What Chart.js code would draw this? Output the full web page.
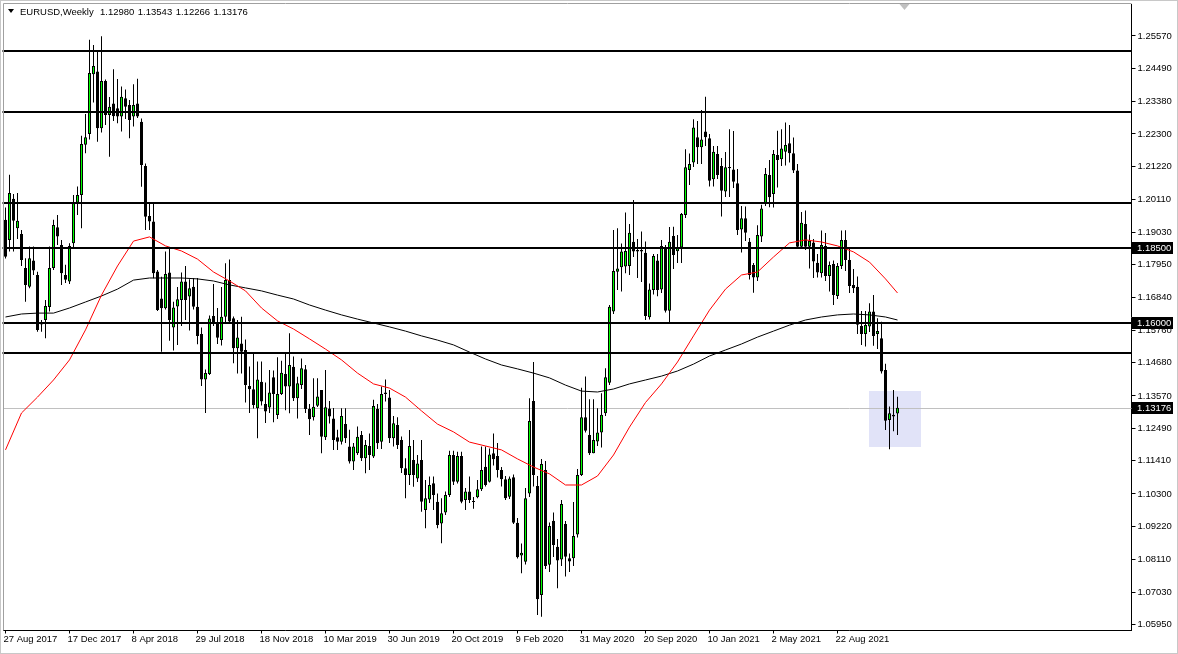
<!DOCTYPE html>
<html>
<head>
<meta charset="utf-8">
<script src="https://cdn.jsdelivr.net/npm/chart.js@4.4.0/dist/chart.umd.min.js"></script>
<style>
  html, body { margin: 0; padding: 0; background: #fff; overflow: hidden; }
  #wrap { width: 1178px; height: 654px; }
</style>
</head>
<body>
<div id="wrap"><canvas id="chart" width="1178" height="654"></canvas></div>
<script>
// --- data (27 Aug 2017 .. 5 Dec 2021) ---
var symbolTitle = 'EURUSD,Weekly';
var xTickLabels = ['27 Aug 2017', '17 Dec 2017', '8 Apr 2018', '29 Jul 2018', '18 Nov 2018', '10 Mar 2019',
    '30 Jun 2019', '20 Oct 2019', '9 Feb 2020', '31 May 2020', '20 Sep 2020', '10 Jan 2021', '2 May 2021', '22 Aug 2021'];
var weeksPerTick = 16;
var slotCount = 282; // weekly slots on the axis, the right part is empty (chart shift)

var yTicks = [1.2557, 1.2449, 1.2338, 1.2230, 1.2122, 1.2011, 1.1903, 1.1795, 1.1684, 1.1576,
    1.1468, 1.1357, 1.1249, 1.1141, 1.1030, 1.0922, 1.0811, 1.0703, 1.0595];

var opens = [
    1.1944, 1.1877, 1.2014, 1.1916, 1.1897, 1.1783, 1.1721, 1.1808,
    1.1760, 1.1601, 1.1610, 1.1653, 1.1783, 1.1919, 1.1860, 1.1760,
    1.1738, 1.1866, 1.2001, 1.2027, 1.2194, 1.2230, 1.2429, 1.2438,
    1.2249, 1.2407, 1.2293, 1.2332, 1.2316, 1.2288, 1.2349, 1.2327,
    1.2288, 1.2332, 1.2271, 1.2123, 1.1957, 1.1938, 1.1772, 1.1682,
    1.1649, 1.1768, 1.1585, 1.1655, 1.1677, 1.1738, 1.1688, 1.1721,
    1.1654, 1.1563, 1.1412, 1.1430, 1.1623, 1.1600, 1.1543, 1.1621,
    1.1743, 1.1616, 1.1516, 1.1532, 1.1510, 1.1390, 1.1379, 1.1316,
    1.1404, 1.1330, 1.1318, 1.1419, 1.1293, 1.1363, 1.1430, 1.1388,
    1.1454, 1.1349, 1.1393, 1.1446, 1.1313, 1.1286, 1.1324, 1.1377,
    1.1219, 1.1315, 1.1282, 1.1219, 1.1204, 1.1263, 1.1188, 1.1138,
    1.1166, 1.1227, 1.1149, 1.1190, 1.1155, 1.1313, 1.1204, 1.1363,
    1.1352, 1.1216, 1.1260, 1.1210, 1.1116, 1.1093, 1.1143, 1.1082,
    1.1143, 1.0977, 1.1012, 1.1066, 1.1004, 1.0932, 1.0968, 1.1027,
    1.1160, 1.1071, 1.1157, 1.1010, 1.1038, 1.1006, 1.1019, 1.1046,
    1.1121, 1.1071, 1.1166, 1.1157, 1.1110, 1.1079, 1.1021, 1.1086,
    1.0934, 1.0825, 1.0804, 1.1032, 1.1340, 1.1057, 1.0693, 1.1110,
    1.0794, 1.0941, 1.0854, 1.0812, 1.0930, 1.0816, 1.0816, 1.0895,
    1.1093, 1.1286, 1.1227, 1.1166, 1.1205, 1.1235, 1.1299, 1.1401,
    1.1638, 1.1771, 1.1786, 1.1788, 1.1790, 1.1871, 1.1838, 1.1843,
    1.1834, 1.1619, 1.1710, 1.1808, 1.1712, 1.1852, 1.1641, 1.1890,
    1.1839, 1.1852, 1.1960, 1.2110, 1.2135, 1.2219, 1.2186, 1.2238,
    1.2216, 1.2079, 1.2163, 1.2123, 1.2038, 1.2120, 1.2112, 1.2066,
    1.1912, 1.1949, 1.1871, 1.1793, 1.1752, 1.1888, 1.1999, 1.2093,
    1.2030, 1.2160, 1.2146, 1.2171, 1.2199, 1.2166, 1.2108, 1.1854,
    1.1930, 1.1854, 1.1868, 1.1801, 1.1766, 1.1857, 1.1757, 1.1797,
    1.1690, 1.1790, 1.1877, 1.1810, 1.1727, 1.1721, 1.1590, 1.1563,
    1.1588, 1.1638, 1.1563, 1.1549, 1.1443, 1.1277, 1.1288, 1.12980
];
var highs = [
    1.1985, 1.2094, 1.2030, 1.2033, 1.1910, 1.1816, 1.1855, 1.1855,
    1.1771, 1.1610, 1.1677, 1.1855, 1.1944, 1.1960, 1.1877, 1.1794,
    1.1866, 1.2027, 1.2055, 1.2224, 1.2297, 1.2544, 1.2527, 1.2507,
    1.2556, 1.2412, 1.2353, 1.2446, 1.2413, 1.2388, 1.2378, 1.2343,
    1.2396, 1.2414, 1.2282, 1.2132, 1.2000, 1.2000, 1.1777, 1.1754,
    1.1838, 1.1852, 1.1671, 1.1720, 1.1768, 1.1790, 1.1746, 1.1750,
    1.1750, 1.1585, 1.1445, 1.1625, 1.1730, 1.1650, 1.1720, 1.1799,
    1.1812, 1.1622, 1.1610, 1.1621, 1.1545, 1.1455, 1.1500, 1.1472,
    1.1472, 1.1402, 1.1443, 1.1442, 1.1486, 1.1474, 1.1498, 1.1566,
    1.1488, 1.1421, 1.1482, 1.1460, 1.1330, 1.1416, 1.1416, 1.1377,
    1.1443, 1.1340, 1.1317, 1.1244, 1.1316, 1.1316, 1.1244, 1.1200,
    1.1255, 1.1240, 1.1210, 1.1232, 1.1344, 1.1330, 1.1388, 1.1412,
    1.1377, 1.1290, 1.1286, 1.1222, 1.1149, 1.1243, 1.1210, 1.1160,
    1.1210, 1.1077, 1.1088, 1.1088, 1.1032, 1.1016, 1.1038, 1.1174,
    1.1174, 1.1171, 1.1171, 1.1050, 1.1088, 1.1020, 1.1077, 1.1188,
    1.1188, 1.1182, 1.1232, 1.1200, 1.1120, 1.1090, 1.1088, 1.1095,
    1.0950, 1.0865, 1.1050, 1.1349, 1.1470, 1.1090, 1.1147, 1.1140,
    1.0935, 1.0968, 1.0880, 1.1010, 1.0940, 1.0832, 1.1003, 1.1113,
    1.1384, 1.1422, 1.1346, 1.1346, 1.1316, 1.1366, 1.1449, 1.1660,
    1.1910, 1.1916, 1.1865, 1.1968, 1.1930, 1.2010, 1.1880, 1.1905,
    1.1872, 1.1732, 1.1830, 1.1830, 1.1877, 1.1860, 1.1920, 1.1921,
    1.1893, 1.1967, 1.2179, 1.2165, 1.2279, 1.2273, 1.2310, 1.2354,
    1.2230, 1.2190, 1.2190, 1.2150, 1.2170, 1.2246, 1.2240, 1.2113,
    1.1990, 1.1988, 1.1883, 1.1800, 1.1926, 1.1994, 1.2117, 1.2143,
    1.2177, 1.2241, 1.2246, 1.2268, 1.2260, 1.2218, 1.2130, 1.1970,
    1.1975, 1.1895, 1.1880, 1.1830, 1.1908, 1.1900, 1.1805, 1.1808,
    1.1800, 1.1908, 1.1909, 1.1848, 1.1780, 1.1755, 1.1640, 1.1640,
    1.1666, 1.1693, 1.1616, 1.1604, 1.1464, 1.1322, 1.1377, 1.13543
];
var lows = [
    1.1815, 1.1838, 1.1838, 1.1880, 1.1790, 1.1671, 1.1716, 1.1760,
    1.1571, 1.1571, 1.1549, 1.1638, 1.1777, 1.1860, 1.1727, 1.1733,
    1.1730, 1.1849, 1.1960, 1.1916, 1.2166, 1.2212, 1.2335, 1.2204,
    1.2235, 1.2260, 1.2154, 1.2273, 1.2266, 1.2238, 1.2280, 1.2216,
    1.2255, 1.2283, 1.2054, 1.1910, 1.1910, 1.1749, 1.1640, 1.1504,
    1.1645, 1.1541, 1.1508, 1.1527, 1.1590, 1.1610, 1.1575, 1.1645,
    1.1529, 1.1390, 1.1300, 1.1427, 1.1590, 1.1530, 1.1525, 1.1600,
    1.1600, 1.1466, 1.1432, 1.1432, 1.1335, 1.1300, 1.1315, 1.1216,
    1.1325, 1.1267, 1.1300, 1.1269, 1.1280, 1.1360, 1.1309, 1.1299,
    1.1340, 1.1282, 1.1380, 1.1300, 1.1227, 1.1275, 1.1320, 1.1166,
    1.1210, 1.1265, 1.1177, 1.1177, 1.1195, 1.1200, 1.1132, 1.1110,
    1.1160, 1.1140, 1.1099, 1.1110, 1.1150, 1.1180, 1.1180, 1.1338,
    1.1200, 1.1188, 1.1180, 1.1100, 1.1016, 1.1060, 1.1054, 1.1070,
    1.0971, 1.0916, 1.1000, 1.0977, 1.0916, 1.0866, 1.0960, 1.1020,
    1.1060, 1.1065, 1.0999, 1.0977, 1.1000, 1.0981, 1.1016, 1.1040,
    1.1055, 1.1068, 1.1125, 1.1085, 1.1055, 1.1010, 1.1013, 1.0930,
    1.0815, 1.0766, 1.0795, 1.1020, 1.1055, 1.0627, 1.0621, 1.0780,
    1.0770, 1.0820, 1.0716, 1.0790, 1.0755, 1.0770, 1.0790, 1.0885,
    1.1090, 1.1235, 1.1160, 1.1166, 1.1190, 1.1185, 1.1290, 1.1393,
    1.1630, 1.1710, 1.1705, 1.1766, 1.1760, 1.1820, 1.1750, 1.1737,
    1.1610, 1.1612, 1.1695, 1.1689, 1.1700, 1.1635, 1.1603, 1.1780,
    1.1800, 1.1800, 1.1950, 1.2060, 1.2120, 1.2130, 1.2130, 1.2190,
    1.2055, 1.2055, 1.2080, 1.1955, 1.2020, 1.2020, 1.2050, 1.1893,
    1.1835, 1.1873, 1.1745, 1.1701, 1.1740, 1.1870, 1.1990, 1.1986,
    1.1985, 1.2052, 1.2123, 1.2125, 1.2135, 1.2100, 1.1847, 1.1850,
    1.1843, 1.1782, 1.1750, 1.1752, 1.1752, 1.1740, 1.1705, 1.1660,
    1.1680, 1.1780, 1.1773, 1.1700, 1.1700, 1.1563, 1.1527, 1.1522,
    1.1570, 1.1524, 1.1513, 1.1432, 1.1243, 1.1179, 1.1239, 1.12266
];
var closes = [
    1.1821, 1.2033, 1.1941, 1.1941, 1.1810, 1.1727, 1.1816, 1.1775,
    1.1577, 1.1595, 1.1657, 1.1783, 1.1927, 1.1888, 1.1766, 1.1744,
    1.1857, 1.2001, 1.2027, 1.2197, 1.2219, 1.2433, 1.2457, 1.2249,
    1.2407, 1.2293, 1.2321, 1.2289, 1.2288, 1.2354, 1.2321, 1.2277,
    1.2327, 1.2288, 1.2127, 1.1954, 1.1938, 1.1766, 1.1643, 1.1649,
    1.1763, 1.1610, 1.1652, 1.1679, 1.1738, 1.1677, 1.1716, 1.1654,
    1.1557, 1.1412, 1.1433, 1.1615, 1.1600, 1.1551, 1.1621, 1.1743,
    1.1605, 1.1516, 1.1552, 1.1504, 1.1393, 1.1379, 1.1327, 1.1412,
    1.1338, 1.1305, 1.1368, 1.1363, 1.1363, 1.1434, 1.1388, 1.1460,
    1.1349, 1.1399, 1.1449, 1.1313, 1.1279, 1.1321, 1.1355, 1.1221,
    1.1319, 1.1288, 1.1210, 1.1204, 1.1290, 1.1216, 1.1138, 1.1188,
    1.1221, 1.1149, 1.1193, 1.1160, 1.1323, 1.1199, 1.1363, 1.1368,
    1.1216, 1.1266, 1.1193, 1.1116, 1.1093, 1.1190, 1.1093, 1.1132,
    1.1004, 1.1016, 1.1060, 1.1027, 1.0927, 1.0966, 1.1027, 1.1160,
    1.1071, 1.1157, 1.1004, 1.1038, 1.1010, 1.1003, 1.1046, 1.1110,
    1.1060, 1.1162, 1.1146, 1.1110, 1.1079, 1.1016, 1.1082, 1.0934,
    1.0819, 1.0834, 1.1016, 1.1273, 1.1093, 1.0679, 1.1130, 1.0790,
    1.0923, 1.0860, 1.0808, 1.0997, 1.0821, 1.0805, 1.0890, 1.1093,
    1.1286, 1.1241, 1.1166, 1.1210, 1.1235, 1.1294, 1.1419, 1.1654,
    1.1773, 1.1782, 1.1838, 1.1840, 1.1901, 1.1838, 1.1843, 1.1838,
    1.1623, 1.1712, 1.1823, 1.1710, 1.1857, 1.1641, 1.1871, 1.1827,
    1.1850, 1.1963, 1.2119, 1.2130, 1.2252, 1.2186, 1.2212, 1.2219,
    1.2074, 1.2171, 1.2093, 1.2041, 1.2119, 1.2116, 1.2071, 1.1910,
    1.1949, 1.1901, 1.1760, 1.1752, 1.1893, 1.1982, 1.2097, 1.2019,
    1.2163, 1.2143, 1.2182, 1.2193, 1.2166, 1.2108, 1.1854, 1.1934,
    1.1854, 1.1874, 1.1805, 1.1768, 1.1860, 1.1757, 1.1793, 1.1693,
    1.1790, 1.1877, 1.1810, 1.1723, 1.1716, 1.1594, 1.1563, 1.1593,
    1.1638, 1.1557, 1.1573, 1.1438, 1.1274, 1.1299, 1.1294, 1.13176
];

// moving averages, read every 4th week
var maWeeks = [0, 4, 8, 12, 16, 20, 24, 28, 32, 36, 40, 44, 48, 52, 56, 60, 64, 68, 72, 76,
    80, 84, 88, 92, 96, 100, 104, 108, 112, 116, 120, 124, 128, 132, 136, 140, 144, 148, 152, 156,
    160, 164, 168, 172, 176, 180, 184, 188, 192, 196, 200, 204, 208, 212, 216, 220, 223];
var maFast = [1.1177, 1.1300, 1.1353, 1.1410, 1.1477, 1.1577, 1.1693, 1.1790, 1.1873, 1.1887,
    1.1857, 1.1840, 1.1813, 1.1770, 1.1740, 1.1707, 1.1650, 1.1607, 1.1580, 1.1547,
    1.1513, 1.1477, 1.1433, 1.1397, 1.1383, 1.1353, 1.1307, 1.1263, 1.1237, 1.1203,
    1.1190, 1.1177, 1.1147, 1.1120, 1.1097, 1.1060, 1.1060, 1.1090, 1.1160, 1.1253,
    1.1335, 1.1397, 1.1470, 1.1557, 1.1643, 1.1713, 1.1760, 1.1770, 1.1820, 1.1867,
    1.1877, 1.1870, 1.1857, 1.1837, 1.1803, 1.1747, 1.1700];
var maSlow = [1.1620, 1.1630, 1.1633, 1.1633, 1.1650, 1.1670, 1.1690, 1.1713, 1.1743, 1.1750,
    1.1750, 1.1750, 1.1747, 1.1740, 1.1727, 1.1717, 1.1707, 1.1693, 1.1680, 1.1660,
    1.1643, 1.1627, 1.1613, 1.1600, 1.1587, 1.1573, 1.1557, 1.1543, 1.1527, 1.1503,
    1.1480, 1.1460, 1.1447, 1.1433, 1.1417, 1.1393, 1.1373, 1.1370, 1.1380, 1.1397,
    1.1410, 1.1423, 1.1440, 1.1463, 1.1490, 1.1510, 1.1530, 1.1553, 1.1573, 1.1593,
    1.1610, 1.1620, 1.1627, 1.1630, 1.1627, 1.1620, 1.1610];

// drawn objects
var levels = [1.2508, 1.2304, 1.2001, 1.1850, 1.1600, 1.1500];
var flaggedLevels = [1.1850, 1.1600];
var zone = { fromWeek: 215.9, toWeek: 228.9, top: 1.1373, bottom: 1.1185 };

var lastIdx = closes.length - 1;
var lastPrice = closes[lastIdx];

// --- build what chart.js needs ---
var slots = [];
for (var s = 0; s < slotCount; s++) slots.push(s);

function sparse(values) {
    var out = new Array(closes.length).fill(null);
    maWeeks.forEach(function (w, k) { out[w] = values[k]; });
    return out;
}

var wickData = lows.map(function (l, i) { return [l, highs[i]]; });
var bodyData = opens.map(function (o, i) { return [o, closes[i]]; });
var bodyFill = opens.map(function (o, i) { return closes[i] >= o ? '#00ff00' : '#000000'; });

var FONT = '"Liberation Sans", Arial, sans-serif';

var overlay = {
    id: 'overlay',
    beforeDatasetsDraw: function (chart) {
        var ctx = chart.ctx, a = chart.chartArea, x = chart.scales.x, y = chart.scales.y;
        ctx.save();
        ctx.fillStyle = '#e1e3f8';
        var x0 = Math.round(x.getPixelForValue(zone.fromWeek));
        var x1 = Math.round(x.getPixelForValue(zone.toWeek));
        var y0 = Math.round(y.getPixelForValue(zone.top));
        var y1 = Math.round(y.getPixelForValue(zone.bottom));
        ctx.fillRect(x0, y0, x1 - x0, y1 - y0);

        var py = Math.round(y.getPixelForValue(lastPrice)) + 0.5;
        ctx.strokeStyle = '#c0c0c0';
        ctx.lineWidth = 1;
        ctx.beginPath();
        ctx.moveTo(a.left, py);
        ctx.lineTo(a.right, py);
        ctx.stroke();
        ctx.restore();
    },
    afterDatasetsDraw: function (chart) {
        var ctx = chart.ctx, a = chart.chartArea, x = chart.scales.x, y = chart.scales.y;
        ctx.save();
        ctx.strokeStyle = '#000';
        ctx.lineWidth = 2;
        levels.forEach(function (lv) {
            var py = Math.round(y.getPixelForValue(lv));
            ctx.beginPath();
            ctx.moveTo(a.left - 1, py);
            ctx.lineTo(a.right, py);
            ctx.stroke();
        });

        // chart shift marker
        var sx = Math.round(x.getPixelForValue(lastIdx + 1.5)) + 0.5;
        ctx.fillStyle = '#c0c0c0';
        ctx.beginPath();
        ctx.moveTo(sx - 5, a.top);
        ctx.lineTo(sx + 5, a.top);
        ctx.lineTo(sx, a.top + 6);
        ctx.closePath();
        ctx.fill();

        // title
        ctx.fillStyle = '#000';
        ctx.beginPath();
        ctx.moveTo(8, 9);
        ctx.lineTo(14, 9);
        ctx.lineTo(11, 13);
        ctx.closePath();
        ctx.fill();
        ctx.font = '9.5px ' + FONT;
        ctx.textBaseline = 'middle';
        ctx.fillText(symbolTitle, 20, 12);
        var quote = [opens[lastIdx], highs[lastIdx], lows[lastIdx], closes[lastIdx]];
        var tx = 100;
        quote.forEach(function (v) {
            var t = v.toFixed(5);
            ctx.fillText(t, tx, 12);
            tx += ctx.measureText(t).width + 3.5;
        });
        ctx.restore();
    },
    afterDraw: function (chart) {
        var ctx = chart.ctx, a = chart.chartArea, y = chart.scales.y;
        ctx.save();
        ctx.font = '9.5px ' + FONT;
        ctx.textBaseline = 'middle';
        flaggedLevels.concat([lastPrice]).forEach(function (v) {
            var py = Math.round(y.getPixelForValue(v));
            ctx.fillStyle = '#000';
            ctx.fillRect(Math.round(a.right), py - 6, 41, 12);
            ctx.fillStyle = '#fff';
            ctx.fillText(v.toFixed(5), a.right + 5.5, py + 0.5);
        });
        // window frame
        ctx.strokeStyle = '#a0a0a0';
        ctx.lineWidth = 1;
        ctx.beginPath();
        ctx.moveTo(a.right, 3.5);
        ctx.lineTo(3.5, 3.5);
        ctx.lineTo(3.5, a.bottom);
        ctx.stroke();
        ctx.strokeStyle = '#c8c8c8';
        ctx.strokeRect(0.5, 0.5, 1177, 653);
        ctx.restore();
    }
};

new Chart(document.getElementById('chart'), {
    type: 'bar',
    data: {
        labels: slots,
        datasets: [
            {
                type: 'line', data: sparse(maFast), borderColor: '#ff0000', borderWidth: 1,
                pointRadius: 0, spanGaps: true, tension: 0, fill: false
            },
            {
                type: 'line', data: sparse(maSlow), borderColor: '#000000', borderWidth: 1,
                pointRadius: 0, spanGaps: true, tension: 0, fill: false
            },
            {
                data: bodyData, backgroundColor: bodyFill, borderColor: '#000', borderWidth: 1,
                borderSkipped: false, barThickness: 3, grouped: false, minBarLength: 1, inflateAmount: 0
            },
            {
                data: wickData, backgroundColor: '#000', borderWidth: 0,
                barThickness: 1, grouped: false, inflateAmount: 0
            }
        ]
    },
    options: {
        responsive: false,
        animation: false,
        devicePixelRatio: 1,
        layout: { padding: { left: 3.5, top: 4, right: 0, bottom: 0 } },
        plugins: { legend: { display: false }, tooltip: { enabled: false } },
        scales: {
            x: {
                type: 'category',
                offset: true,
                afterBuildTicks: function (scale) {
                    scale.ticks = scale.ticks.filter(function (t) {
                        return t.value % weeksPerTick === 0 && t.value / weeksPerTick < xTickLabels.length;
                    });
                },
                afterFit: function (scale) {
                    scale.height = 23.5;
                    scale.paddingLeft = 0;
                    scale.paddingRight = 0;
                },
                ticks: {
                    autoSkip: false, maxRotation: 0, minRotation: 0, align: 'start', padding: 0,
                    labelOffset: -2,
                    color: '#000', font: { family: FONT, size: 9.5 },
                    callback: function (v) { return xTickLabels[v / weeksPerTick]; }
                },
                grid: { drawOnChartArea: false, offset: false, tickLength: 3, color: '#000' },
                border: { color: '#000' }
            },
            y: {
                position: 'right',
                min: 1.0575,
                max: 1.26633,
                afterBuildTicks: function (scale) {
                    scale.ticks = yTicks.map(function (v) { return { value: v }; });
                },
                afterFit: function (scale) {
                    scale.width = 46.5;
                    scale.paddingTop = 0;
                    scale.paddingBottom = 0;
                },
                ticks: {
                    padding: 2, color: '#000', font: { family: FONT, size: 9.5 },
                    callback: function (v) { return Number(v).toFixed(5); }
                },
                grid: { drawOnChartArea: false, tickLength: 4, color: '#000' },
                border: { color: '#000' }
            }
        }
    },
    plugins: [overlay]
});
</script>
</body>
</html>
